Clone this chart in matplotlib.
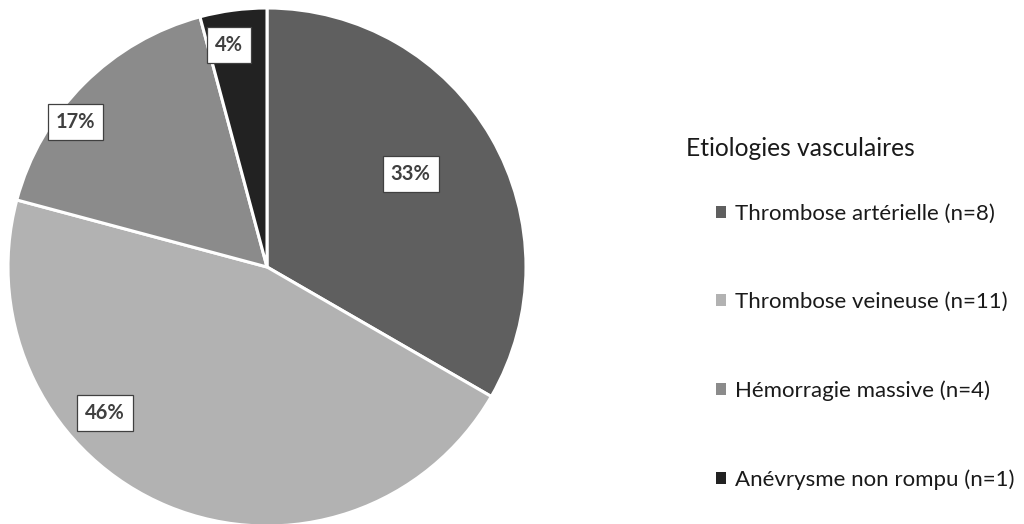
import matplotlib.pyplot as plt
from matplotlib.patches import Patch

plt.rcParams['font.family'] = ['Lato', 'DejaVu Sans']

# data
categories = ['Thrombose artérielle (n=8)', 'Thrombose veineuse (n=11)',
              'Hémorragie massive (n=4)', 'Anévrysme non rompu (n=1)']
counts = [8, 11, 4, 1]
pct_labels = ['33%', '46%', '17%', '4%']
colors = ['#5f5f5f', '#b2b2b2', '#8b8b8b', '#222222']

# label positions (pie data coords), as placed in the original
label_pos = [(0.555, 0.36), (-0.625, -0.565), (-0.74, 0.56), (-0.148, 0.857)]

fig = plt.figure(figsize=(10.24, 5.24), dpi=100)
cx, cy, r = 267, 257, 259
ax = fig.add_axes([(cx - r) / 1024, (cy - r) / 524, 2 * r / 1024, 2 * r / 524])
wedges, _ = ax.pie(counts, colors=colors, startangle=90, counterclock=False,
                   radius=1, wedgeprops=dict(edgecolor='white', linewidth=2.2))
ax.set_xlim(-1, 1)
ax.set_ylim(-1, 1)
ax.set_aspect('equal')
ax.axis('off')

for txt, (x, y) in zip(pct_labels, label_pos):
    ax.text(x, y, txt, ha='center', va='center', fontsize=14.5, fontweight='bold',
            color='#404040',
            bbox=dict(boxstyle='square,pad=0.4', facecolor='white',
                      edgecolor='#404040', linewidth=0.9))

fig.text(686 / 1024, 1 - 148 / 524, 'Etiologies vasculaires', fontsize=17.7,
         color='#1a1a1a', va='center', ha='left')

handles = [Patch(facecolor=c, edgecolor='none') for c in colors]
leg = fig.legend(handles, categories, loc='upper left',
                 bbox_to_anchor=(707 / 1024, 1 - 195 / 524), frameon=False,
                 fontsize=16, handlelength=0.45, handleheight=0.45,
                 handletextpad=0.4, labelspacing=3.07, borderaxespad=0)
for t in leg.get_texts():
    t.set_color('#1a1a1a')

fig.savefig('out.png', dpi=100, facecolor='white')
